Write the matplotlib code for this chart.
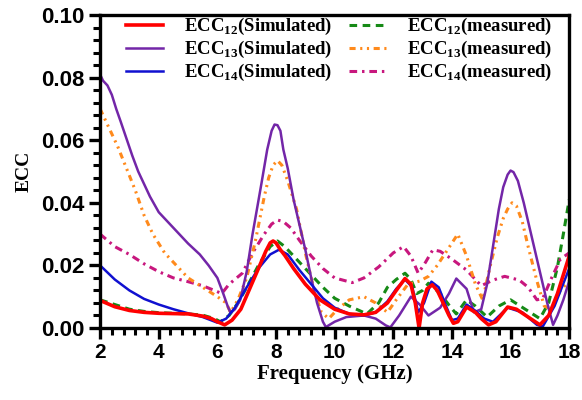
import matplotlib
matplotlib.use("Agg")
import matplotlib.pyplot as plt
from matplotlib.ticker import MultipleLocator, FormatStrFormatter

plt.rcParams['mathtext.fontset'] = 'custom'
plt.rcParams['mathtext.rm'] = 'Liberation Serif:bold'
plt.rcParams['mathtext.bf'] = 'Liberation Serif:bold'
plt.rcParams['xtick.major.size'] = 8
plt.rcParams['ytick.major.size'] = 8
plt.rcParams['xtick.minor.size'] = 5
plt.rcParams['ytick.minor.size'] = 5
plt.rcParams['xtick.major.width'] = 2.4
plt.rcParams['ytick.major.width'] = 2.4
plt.rcParams['xtick.minor.width'] = 2.2
plt.rcParams['ytick.minor.width'] = 2.2

# ECC12 simulated (red)
f_12s = [2, 2.5, 3, 3.5, 4, 4.5, 5, 5.5, 5.8, 6.0, 6.25, 6.5, 6.8, 7.1, 7.4, 7.65, 7.8, 7.9, 8.0,
         8.15, 8.3, 8.6, 9.0, 9.5, 10.0, 10.5, 11.0, 11.4, 11.8, 12.1, 12.4, 12.6, 12.75, 12.88,
         13.0, 13.15, 13.33, 13.5, 13.7, 13.9, 14.05, 14.2, 14.5, 14.8, 15.0, 15.25, 15.5, 15.9,
         16.2, 16.6, 17.0, 17.3, 17.6, 18.0]
ecc_12s = [0.0088, 0.0068, 0.0056, 0.005, 0.0047, 0.0046, 0.0045, 0.0038, 0.003, 0.002, 0.001,
           0.0025, 0.006, 0.0125, 0.019, 0.0245, 0.0272, 0.0278, 0.0272, 0.025, 0.0232, 0.019,
           0.014, 0.009, 0.006, 0.0045, 0.0042, 0.005, 0.008, 0.012, 0.0158, 0.014, 0.008, 0.0,
           0.008, 0.0125, 0.0138, 0.012, 0.008, 0.004, 0.0015, 0.002, 0.0067, 0.005, 0.003, 0.001,
           0.002, 0.0067, 0.006, 0.0035, 0.001, 0.004, 0.011, 0.023]

# ECC13 simulated (purple)
f_13s = [2.0, 2.1, 2.25, 2.4, 2.55, 2.7, 2.9, 3.1, 3.3, 3.5, 3.7, 4.0, 4.3, 4.6, 5.0, 5.4, 5.7,
         6.0, 6.2, 6.35, 6.45, 6.6, 6.78, 7.0, 7.2, 7.35, 7.5, 7.7, 7.85, 7.95, 8.05, 8.15, 8.25,
         8.4, 8.6, 8.8, 9.0, 9.2, 9.4, 9.6, 9.7, 10.0, 10.4, 11.0, 11.4, 11.75, 11.9, 12.2, 12.6,
         12.9, 13.2, 13.6, 13.9, 14.15, 14.5, 14.75, 15.0, 15.2, 15.45, 15.6, 15.75, 15.9, 16.0,
         16.1, 16.25, 16.45, 16.65, 16.85, 17.05, 17.25, 17.45, 17.6, 17.8, 18.0]
ecc_13s = [0.081, 0.079, 0.0775, 0.0745, 0.070, 0.066, 0.0605, 0.055, 0.050, 0.046, 0.042, 0.037,
           0.034, 0.031, 0.027, 0.0235, 0.020, 0.016, 0.011, 0.007, 0.0048, 0.006, 0.009, 0.018,
           0.030, 0.038, 0.046, 0.057, 0.063, 0.065, 0.0648, 0.063, 0.057, 0.051, 0.041, 0.033,
           0.025, 0.016, 0.008, 0.002, 0.0003, 0.002, 0.0035, 0.004, 0.003, 0.0008, 0.0002, 0.004,
           0.010, 0.0075, 0.004, 0.0065, 0.011, 0.0158, 0.0125, 0.005, 0.006, 0.014, 0.029, 0.038,
           0.045, 0.049, 0.0503, 0.0498, 0.047, 0.040, 0.032, 0.024, 0.016, 0.008, 0.001, 0.004,
           0.009, 0.015]

# ECC14 simulated (blue)
f_14s = [2, 2.5, 3, 3.5, 4, 4.5, 5, 5.5, 6.0, 6.3, 6.6, 7.0, 7.4, 7.8, 8.1, 8.4, 8.8, 9.2, 9.6,
         10.0, 10.5, 11.0, 11.4, 11.8, 12.1, 12.4, 12.65, 12.85, 13.05, 13.3, 13.55, 13.8, 14.0,
         14.2, 14.5, 14.8, 15.1, 15.4, 15.9, 16.4, 16.9, 17.1, 17.5, 18.0]
ecc_14s = [0.020, 0.0155, 0.012, 0.0093, 0.0075, 0.006, 0.0047, 0.0035, 0.0017, 0.003, 0.0065,
           0.013, 0.019, 0.0235, 0.025, 0.0235, 0.0185, 0.014, 0.0095, 0.0065, 0.0045, 0.004,
           0.005, 0.0085, 0.0125, 0.0155, 0.013, 0.005, 0.008, 0.0148, 0.013, 0.007, 0.0025, 0.003,
           0.0075, 0.0055, 0.003, 0.002, 0.0065, 0.005, 0.001, 0.0005, 0.007, 0.019]

# ECC12 measured (green)
f_12m = [2, 2.5, 3, 3.5, 4, 4.5, 5, 5.5, 5.9, 6.1, 6.4, 6.7, 7.0, 7.4, 7.8, 8.05, 8.3, 8.8, 9.2,
         9.6, 10.0, 10.5, 11.1, 11.5, 11.8, 12.1, 12.4, 12.6, 12.8, 13.0, 13.2, 13.6, 13.95, 14.15,
         14.5, 14.8, 15.2, 15.6, 16.0, 16.5, 17.0, 17.3, 17.6, 17.8, 18.0]
ecc_12m = [0.009, 0.0075, 0.006, 0.0053, 0.0049, 0.0047, 0.0045, 0.0041, 0.003, 0.002, 0.004,
           0.008, 0.013, 0.020, 0.026, 0.0278, 0.026, 0.021, 0.017, 0.013, 0.0095, 0.007, 0.0045,
           0.008, 0.013, 0.0155, 0.0175, 0.0155, 0.011, 0.012, 0.0143, 0.011, 0.0067, 0.0045,
           0.009, 0.007, 0.0035, 0.007, 0.009, 0.006, 0.003, 0.008, 0.0195, 0.030, 0.041]

# ECC13 measured (orange)
f_13m = [2, 2.3, 2.6, 2.9, 3.2, 3.5, 3.8, 4.2, 4.6, 5.0, 5.5, 6.0, 6.3, 6.45, 6.7, 7.0, 7.3, 7.6,
         7.75, 7.9, 8.05, 8.2, 8.4, 8.7, 9.0, 9.3, 9.55, 9.8, 10.1, 10.5, 11.0, 11.4, 11.8, 12.1,
         12.5, 12.9, 13.2, 13.5, 13.85, 14.2, 14.5, 14.8, 15.05, 15.3, 15.55, 15.75, 15.9, 16.05,
         16.2, 16.4, 16.6, 16.9, 17.15, 17.4, 17.7, 18.0]
ecc_13m = [0.070, 0.064, 0.058, 0.051, 0.044, 0.036, 0.030, 0.024, 0.020, 0.016, 0.013, 0.010,
           0.008, 0.005, 0.009, 0.016, 0.028, 0.042, 0.048, 0.052, 0.0535, 0.052, 0.047, 0.038,
           0.024, 0.012, 0.005, 0.003, 0.006, 0.009, 0.010, 0.008, 0.005, 0.009, 0.014, 0.015,
           0.0165, 0.020, 0.025, 0.030, 0.023, 0.014, 0.009, 0.0196, 0.029, 0.035, 0.038, 0.040,
           0.039, 0.034, 0.026, 0.015, 0.007, 0.006, 0.012, 0.015]

# ECC14 measured (magenta)
f_14m = [2, 2.5, 3.0, 3.5, 4.0, 4.5, 5.0, 5.5, 5.9, 6.15, 6.4, 6.85, 7.2, 7.6, 7.85, 8.05, 8.25,
         8.5, 8.8, 9.2, 9.6, 10.0, 10.6, 11.0, 11.5, 12.0, 12.35, 12.6, 12.85, 13.1, 13.35, 13.6,
         14.0, 14.5, 15.0, 15.4, 15.8, 16.3, 16.6, 16.9, 17.1, 17.4, 17.7, 18.0]
ecc_14m = [0.030, 0.026, 0.0235, 0.0205, 0.018, 0.016, 0.0148, 0.0135, 0.012, 0.011, 0.014,
           0.0175, 0.024, 0.030, 0.0332, 0.0345, 0.034, 0.032, 0.028, 0.023, 0.019, 0.016, 0.0145,
           0.016, 0.0195, 0.024, 0.026, 0.023, 0.0175, 0.021, 0.025, 0.0245, 0.022, 0.0185,
           0.0135, 0.0153, 0.0165, 0.0153, 0.013, 0.009, 0.0095, 0.016, 0.022, 0.024]

fig = plt.figure(figsize=(5.82, 4), dpi=100)
ax = fig.add_axes([0.172, 0.18, 0.806, 0.7825])

l4, = ax.plot(f_12m, ecc_12m, color='#168A16', lw=2.2, dashes=(2.5, 1.8), label=r'ECC$_{\mathrm{12}}$(measured)')
l6, = ax.plot(f_14m, ecc_14m, color='#C8177E', lw=2.2, dashes=(2.5, 1.6, 0.8, 1.6), label=r'ECC$_{\mathrm{14}}$(measured)')
l5, = ax.plot(f_13m, ecc_13m, color='#FF8A1C', lw=2.2, dashes=(2.0, 1.5, 0.7, 1.5, 0.7, 1.5), label=r'ECC$_{\mathrm{13}}$(measured)')
l2, = ax.plot(f_13s, ecc_13s, color='#7326A8', lw=1.8, label=r'ECC$_{\mathrm{13}}$(Simulated)')
l3, = ax.plot(f_14s, ecc_14s, color='#1010D0', lw=1.8, label=r'ECC$_{\mathrm{14}}$(Simulated)')
l1, = ax.plot(f_12s, ecc_12s, color='#FF0000', lw=2.6, label=r'ECC$_{\mathrm{12}}$(Simulated)')

ax.set_xlim(2, 18)
ax.set_ylim(0, 0.10)
ax.xaxis.set_major_locator(MultipleLocator(2))
ax.xaxis.set_minor_locator(MultipleLocator(0.4))
ax.yaxis.set_major_locator(MultipleLocator(0.02))
ax.yaxis.set_minor_locator(MultipleLocator(0.004))
ax.yaxis.set_major_formatter(FormatStrFormatter('%.2f'))

for s in ax.spines.values():
    s.set_linewidth(2.4)
ax.tick_params(which='both', direction='out', pad=3)
for lab in ax.get_yticklabels():
    lab.set_family('Liberation Sans')
    lab.set_fontweight('bold')
    lab.set_fontsize(16)
for lab in ax.get_xticklabels():
    lab.set_family('Liberation Sans')
    lab.set_fontweight('bold')
    lab.set_fontsize(15)

ax.set_xlabel('Frequency (GHz)', family='Liberation Serif', fontweight='bold', fontsize=15, labelpad=1)
ax.set_ylabel('ECC', family='Liberation Serif', fontweight='bold', fontsize=14, labelpad=6)

leg = ax.legend(handles=[l1, l2, l3, l4, l5, l6], ncol=2, frameon=False, loc='upper right',
                bbox_to_anchor=(1.0, 1.05), prop={'family': 'Liberation Serif', 'weight': 'bold', 'size': 13.5},
                handlelength=2.0, handletextpad=1.1, columnspacing=0.9, labelspacing=0.1)

fig.savefig('out.png', dpi=100)
